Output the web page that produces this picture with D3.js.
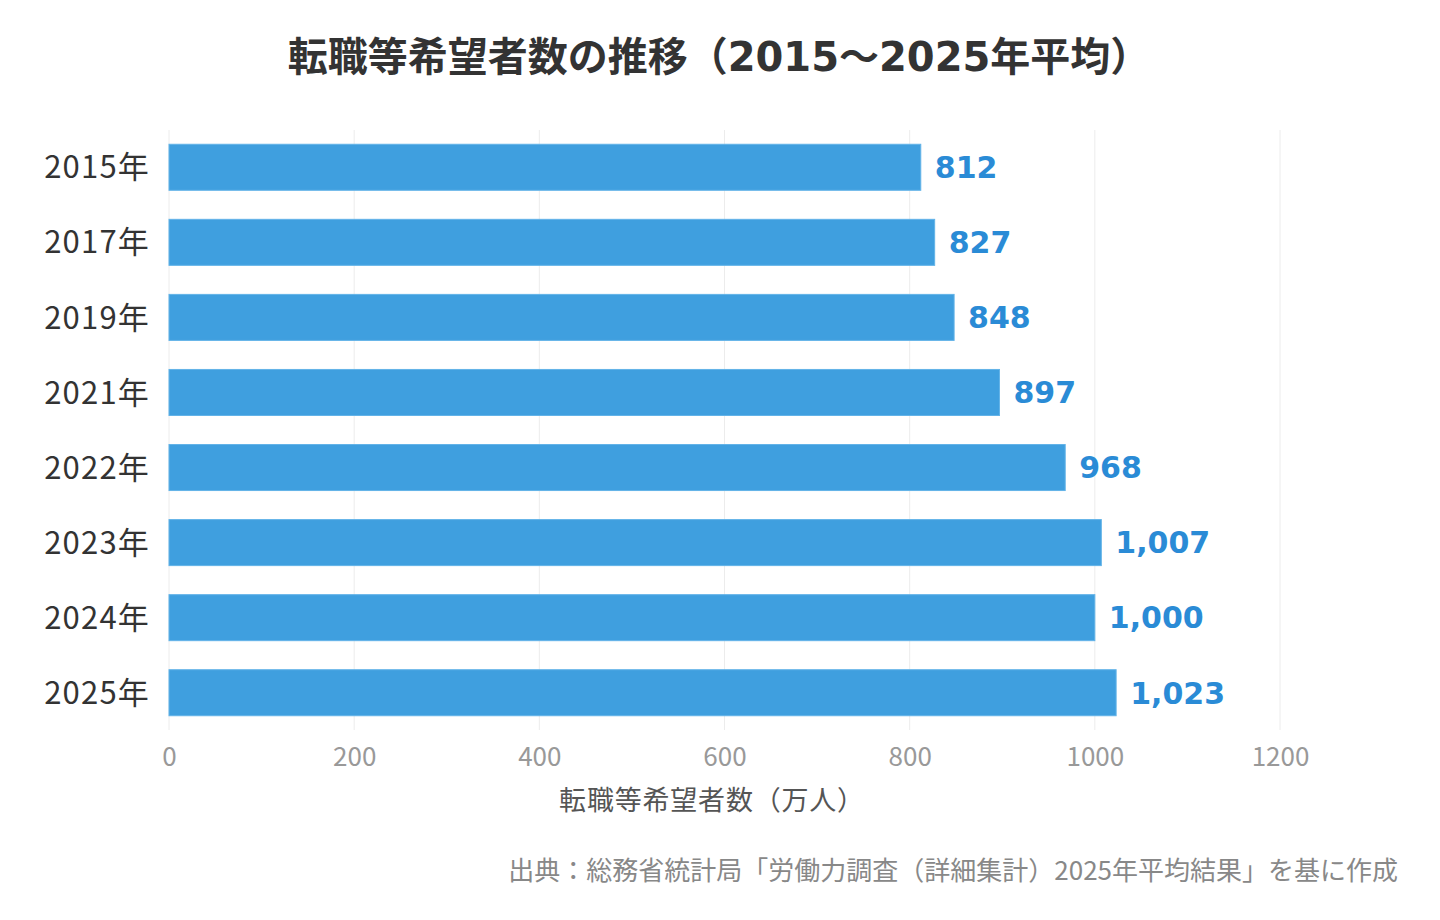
<!DOCTYPE html>
<html lang="ja">
<head>
<meta charset="utf-8">
<script src="https://cdn.jsdelivr.net/npm/d3@7"></script>
<style>
  html, body { margin: 0; padding: 0; background: #fff; }
  svg { display: block; font-family: "Noto Sans CJK JP", "Noto Sans", sans-serif; }
</style>
</head>
<body>
<div id="chart"></div>
<script>
// Data
const years = ['2015年', '2017年', '2019年', '2021年', '2022年', '2023年', '2024年', '2025年'];
const values = [812, 827, 848, 897, 968, 1007, 1000, 1023];
const xTicks = [0, 200, 400, 600, 800, 1000, 1200];

const width = 1440, height = 920;
const margin = { top: 130, right: 160, bottom: 190, left: 169 };
const wideFont = '"DejaVu Sans", "Noto Sans CJK JP", sans-serif';

const svg = d3.select('#chart')
    .append('svg')
    .attr('width', width)
    .attr('height', height);

const x = d3.scaleLinear()
    .domain([0, 1200])
    .range([margin.left, width - margin.right]);

const y = d3.scaleBand()
    .domain(years)
    .range([margin.top, height - margin.bottom])
    .paddingInner(0.387)
    .paddingOuter(0.19);

// Title
svg.append('text')
    .attr('x', 719)
    .attr('y', 71)
    .attr('text-anchor', 'middle')
    .attr('font-family', wideFont)
    .attr('font-size', 40)
    .attr('font-weight', 700)
    .attr('fill', '#333')
    .text('転職等希望者数の推移（2015～2025年平均）');

// Grid lines
svg.append('g')
    .selectAll('line')
    .data(xTicks)
    .enter()
    .append('line')
    .attr('x1', d => x(d))
    .attr('x2', d => x(d))
    .attr('y1', margin.top)
    .attr('y2', height - margin.bottom)
    .attr('stroke', '#ececec')
    .attr('stroke-width', 1);

// Bars
svg.append('g')
    .selectAll('rect')
    .data(values)
    .enter()
    .append('rect')
    .attr('x', x(0))
    .attr('y', (d, i) => y(years[i]))
    .attr('width', d => x(d) - x(0))
    .attr('height', y.bandwidth())
    .attr('fill', '#3f9fdf')
    .attr('stroke', '#62b3e8')
    .attr('stroke-width', 1);

// Value labels
svg.append('g')
    .selectAll('text')
    .data(values)
    .enter()
    .append('text')
    .attr('x', d => x(d) + 14)
    .attr('y', (d, i) => y(years[i]) + y.bandwidth() / 2)
    .attr('dy', '0.36em')
    .attr('font-family', wideFont)
    .attr('font-size', 30)
    .attr('font-weight', 700)
    .attr('fill', '#2a8bd6')
    .text(d => d3.format(',')(d));

// Y axis labels
svg.append('g')
    .selectAll('text')
    .data(years)
    .enter()
    .append('text')
    .attr('x', 150)
    .attr('y', d => y(d) + y.bandwidth() / 2)
    .attr('dy', '0.36em')
    .attr('text-anchor', 'end')
    .attr('font-size', 31)
    .attr('letter-spacing', 1.2)
    .attr('fill', '#333')
    .text(d => d);

// X axis
const xAxis = svg.append('g')
    .attr('transform', `translate(0, ${height - margin.bottom})`)
    .call(d3.axisBottom(x).tickValues(xTicks).tickSize(0).tickPadding(18).tickFormat(d3.format('d')));
xAxis.select('.domain').remove();
xAxis.selectAll('text')
    .attr('font-family', '"Noto Sans CJK JP", "Noto Sans", sans-serif')
    .attr('font-size', 26)
    .attr('fill', '#999');

// X axis title
svg.append('text')
    .attr('x', 712)
    .attr('y', 810)
    .attr('text-anchor', 'middle')
    .attr('font-size', 27)
    .attr('letter-spacing', 0.8)
    .attr('fill', '#555')
    .text('転職等希望者数（万人）');

// Source
svg.append('text')
    .attr('x', 1398)
    .attr('y', 880)
    .attr('text-anchor', 'end')
    .attr('font-size', 26)
    .attr('fill', '#888')
    .text('出典：総務省統計局「労働力調査（詳細集計）2025年平均結果」を基に作成');
</script>
</body>
</html>
